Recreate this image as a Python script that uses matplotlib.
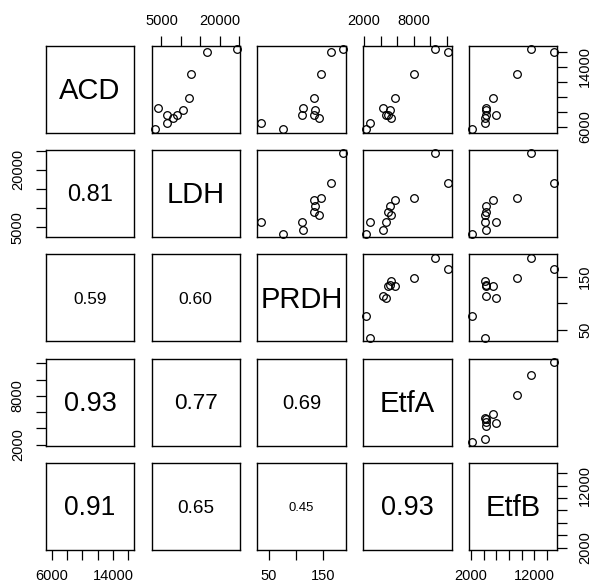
import matplotlib.pyplot as plt
import numpy as np

plt.rcParams['font.family'] = ['Liberation Sans', 'DejaVu Sans']

# variables (11 samples)
names = ['ACD', 'LDH', 'PRDH', 'EtfA', 'EtfB']
acd = [5660, 6460, 7170, 7520, 7610, 8190, 8540, 9870, 12980, 16000, 16350]
ldh = [3300, 6480, 8090, 9040, 6440, 10470, 4200, 12150, 12630, 16600, 24300]
prdh = [77, 35, 142, 133, 111, 135, 113, 133, 147, 164, 186]
etfa = [2270, 2710, 5240, 4830, 4650, 5120, 4250, 5730, 8040, 12180, 10570]
etfb = [2160, 4130, 4130, 4300, 5890, 4400, 4400, 5460, 9200, 15120, 11490]
data = [acd, ldh, prdh, etfa, etfb]

# correlations shown in the lower panels (row, col) -> r
cor_cells = [(1, 0), (2, 0), (2, 1), (3, 0), (3, 1), (3, 2), (4, 0), (4, 1), (4, 2), (4, 3)]
cor_vals = [0.81, 0.59, 0.60, 0.93, 0.77, 0.69, 0.91, 0.65, 0.45, 0.93]

# axis ticks per variable, and which tick labels are printed
tick_vals = [
    [6000, 8000, 10000, 12000, 14000, 16000],
    [5000, 10000, 15000, 20000, 25000],
    [50, 100, 150],
    [2000, 4000, 6000, 8000, 10000, 12000],
    [2000, 4000, 6000, 8000, 10000, 12000, 14000],
]
tick_labs = [
    ['6000', '', '', '', '14000', ''],
    ['5000', '', '', '20000', ''],
    ['50', '', '150'],
    ['2000', '', '', '8000', '', ''],
    ['2000', '', '', '', '', '12000', ''],
]

W, H = 591, 582
fig = plt.figure(figsize=(W / 100, H / 100), dpi=100)

left0, pitch_x, pw = 45.7, 105.8, 88.5
top0, pitch_y, ph = 45.7, 104.3, 87.0


def lims(v):
    lo, hi = min(v), max(v)
    r = hi - lo
    return lo - 0.04 * r, hi + 0.04 * r


n = len(names)
for i in range(n):
    for j in range(n):
        x0 = left0 + j * pitch_x
        y0 = top0 + i * pitch_y
        ax = fig.add_axes([x0 / W, 1 - (y0 + ph) / H, pw / W, ph / H])
        ax.set_xlim(lims(data[j]))
        ax.set_ylim(lims(data[i]))
        for s in ax.spines.values():
            s.set_color('black')
            s.set_linewidth(1.0)
        ax.tick_params(which='both', bottom=False, top=False, left=False, right=False,
                       labelbottom=False, labeltop=False, labelleft=False, labelright=False,
                       length=7, width=0.9, labelsize=10.5, color='black')
        ax.set_xticks([])
        ax.set_yticks([])

        if i == j:
            ax.text(0.5, 0.48, names[i], transform=ax.transAxes, ha='center', va='center',
                    fontsize=21)
        elif i < j:
            ax.plot(data[j], data[i], 'o', mfc='none', mec='black', ms=5.5, mew=0.9,
                    clip_on=False)
        else:
            r = cor_vals[cor_cells.index((i, j))]
            ax.text(0.5, 0.48, '%.2f' % r, transform=ax.transAxes, ha='center',
                    va='center', fontsize=21 * r)

        # outer axes, alternating like R pairs()
        if i == 0 and j % 2 == 1:
            ax.set_xticks(tick_vals[j])
            ax.set_xticklabels(tick_labs[j])
            ax.tick_params(axis='x', top=True, labeltop=True, pad=6)
        if i == n - 1 and j % 2 == 0:
            ax.set_xticks(tick_vals[j])
            ax.set_xticklabels(tick_labs[j])
            ax.tick_params(axis='x', bottom=True, labelbottom=True, pad=7)
        if j == 0 and i % 2 == 1:
            ax.set_yticks(tick_vals[i])
            ax.set_yticklabels(tick_labs[i], rotation=90, va='center')
            ax.tick_params(axis='y', left=True, labelleft=True, pad=8)
        if j == n - 1 and i % 2 == 0:
            ax.set_yticks(tick_vals[i])
            ax.set_yticklabels(tick_labs[i], rotation=90, va='center')
            ax.tick_params(axis='y', right=True, labelright=True, pad=8)

fig.savefig('out.png', dpi=100)
